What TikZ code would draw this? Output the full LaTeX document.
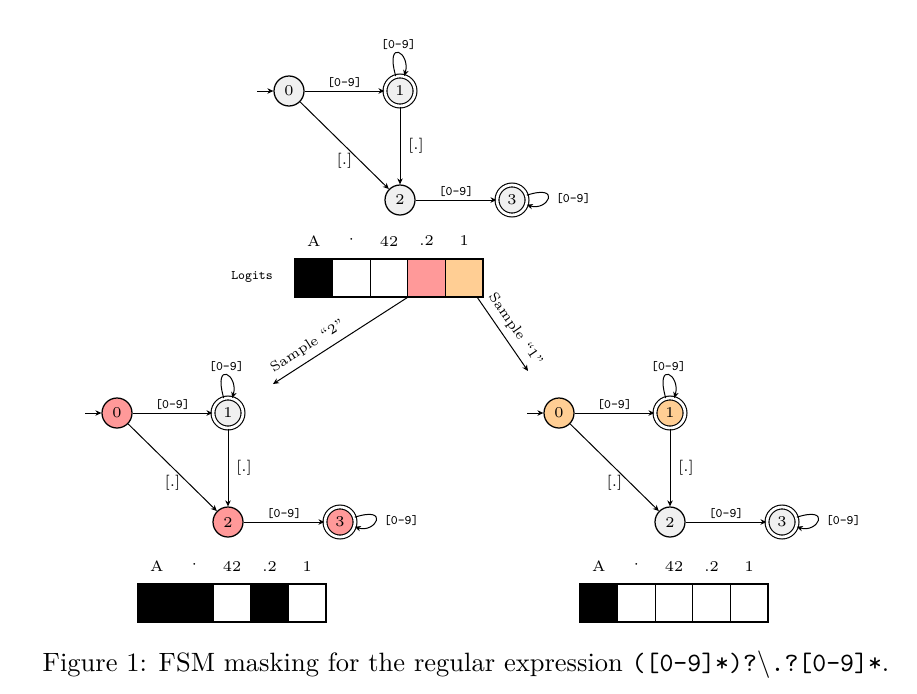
\documentclass[tikz,border=0pt]{standalone}
\usepackage{fontspec}
\usetikzlibrary{arrows.meta}
\definecolor{stgray}{RGB}{240,240,240}
\definecolor{pinkc}{RGB}{255,153,153}
\definecolor{orangec}{RGB}{255,206,148}
\newcommand{\smallfnt}{\fontsize{5.2}{6}\selectfont}
\newcommand{\statefnt}{\fontsize{6}{7}\selectfont}
\newcommand{\samplefnt}{\fontsize{5.6}{6.5}\selectfont}
\tikzset{
  fsmstate/.style={circle,draw,line width=0.5pt,minimum size=12pt,inner sep=0pt,font=\statefnt},
  accstate/.style={fsmstate,double,double distance=1.1pt,line width=0.45pt},
  ttlab/.style={font=\smallfnt\ttfamily,inner sep=1pt},
  dotlab/.style={font=\statefnt,inner sep=1pt},
  trans/.style={-{Stealth[length=2.4pt,width=2.2pt]},line width=0.4pt},
  tokcell/.style={draw,line width=0.5pt,minimum width=15.04pt,minimum height=15.2pt,inner sep=0pt},
  toklab/.style={font=\statefnt,inner sep=0pt},
}
% #1 prefix, #2 dx, #3 dy, #4-#7 fills of states 0..3
\newcommand{\fsmgraph}[7]{%
  \begin{scope}[shift={(#2,#3)},name prefix=#1]
    \node[fsmstate,fill=#4] (s0) at (289,91) {0};
    \node[accstate,fill=#5] (s1) at (400,91) {1};
    \node[fsmstate,fill=#6] (s2) at (400,200) {2};
    \node[accstate,fill=#7] (s3) at (512,200) {3};
    \coordinate (init) at (257,91);
    \draw[trans] (init) -- (s0);
    \draw[trans] (s0) -- node[ttlab,above] {[0-9]} (s1);
    \draw[trans] (s0) -- node[dotlab,below=2pt] {[.]} (s2);
    \draw[trans] (s1) -- node[dotlab,right=2pt] {[.]} (s2);
    \draw[trans] (s2) -- node[ttlab,above] {[0-9]} (s3);
    \draw[trans] (s1) to[loop,out=106,in=74,min distance=16pt] node[ttlab,above] {[0-9]} (s1);
    \draw[trans] (s3) to[loop,out=18,in=-18,min distance=15pt] node[ttlab,right=2pt] {[0-9]} (s3);
  \end{scope}}
% #1 prefix, #2 x left, #3 y top, #4-#8 fills of cells
\newcommand{\tokarray}[8]{%
  \begin{scope}[shift={(#2,#3)},name prefix=#1]
    \node[tokcell,fill=#4] (c1) at (18.8,19) {};
    \node[tokcell,fill=#5] (c2) at (56.4,19) {};
    \node[tokcell,fill=#6] (c3) at (94,19) {};
    \node[tokcell,fill=#7] (c4) at (131.6,19) {};
    \node[tokcell,fill=#8] (c5) at (169.2,19) {};
    \node[toklab] (t1) at (18.8,-18) {A};
    \node[toklab] (t2) at (56.4,-18) {·};
    \node[toklab] (t3) at (94,-18) {42};
    \node[toklab] (t4) at (131.6,-18) {.2};
    \node[toklab] (t5) at (169.2,-18) {1};
  \end{scope}}
\begin{document}
\begin{tikzpicture}[x=0.4pt,y=-0.4pt]
  \useasboundingbox (0,0) rectangle (917,693);
  \fsmgraph{T-}{0}{0}{stgray}{stgray}{stgray}{stgray}
  \fsmgraph{L-}{-172}{322}{pinkc}{stgray}{pinkc}{pinkc}
  \fsmgraph{R-}{270}{322}{orangec}{orangec}{stgray}{stgray}
  \tokarray{A-}{295}{259}{black}{white}{white}{pinkc}{orangec}
  \tokarray{B-}{138}{584}{black}{black}{white}{black}{white}
  \tokarray{C-}{580}{584}{black}{white}{white}{white}{white}
  \node[font=\smallfnt\ttfamily] (logits) at (252,277) {Logits};
  \coordinate (end2) at (273,384);
  \coordinate (start1) at (477,297);
  \coordinate (end1) at (528,371);
  \draw[trans] (A-c4.south west) -- node[pos=0.69,sloped,above,font=\samplefnt,inner sep=2.5pt] {Sample ``2''} (end2);
  \draw[trans] (start1) -- node[pos=0.54,sloped,above,font=\samplefnt,inner sep=2.5pt] {Sample ``1''} (end1);
  \node[font=\fontsize{10.6}{12.7}\selectfont] (caption) at (466,665) {Figure 1: FSM masking for the regular expression \texttt{([0-9]*)?}$\backslash$\texttt{.?[0-9]*}.};
\end{tikzpicture}
\end{document}
